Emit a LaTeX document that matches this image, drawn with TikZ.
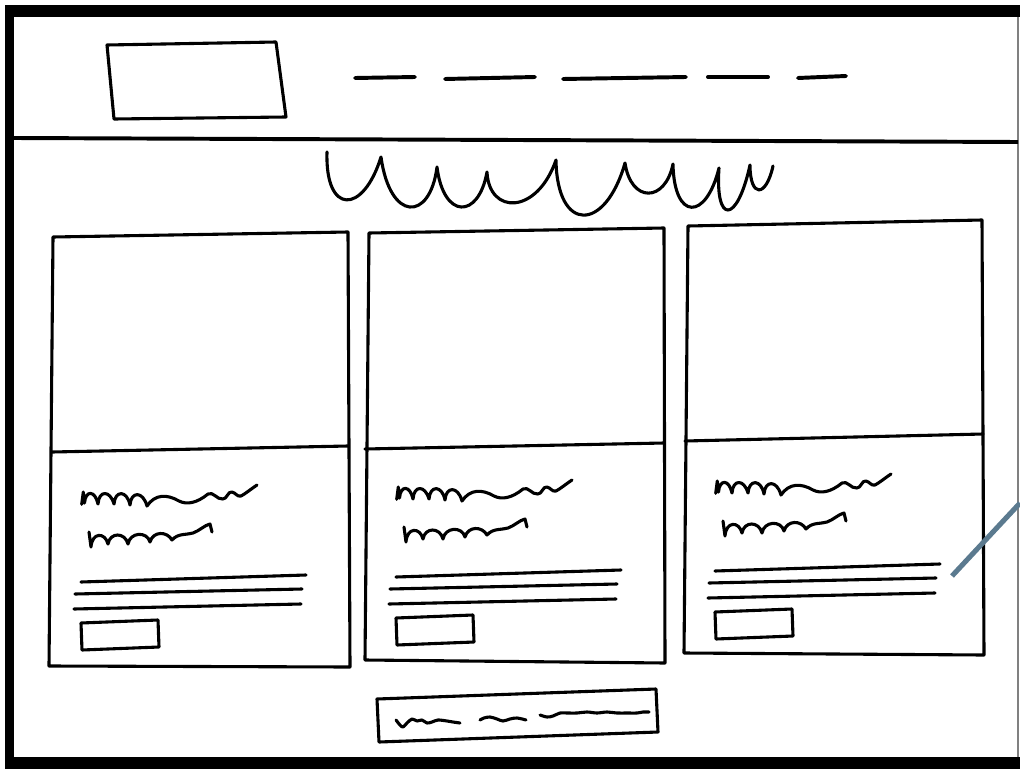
\documentclass[tikz,border=0pt]{standalone}
\usepackage{tikz}
\usetikzlibrary{positioning}
\definecolor{pen}{HTML}{5B7A8F}

\tikzset{
    cardtext/.pic={
        % two heading scribbles
        \draw[sketch] (6.7,29.3) -- (8.3,17) -- (9.5,28)
            .. controls (10.5,15) and (20,15) .. (23,29)
            .. controls (24,15) and (35,15) .. (39,29)
            .. controls (40,15) and (52,15) .. (55,30)
            .. controls (56,16) and (68,16) .. (72,31)
            .. controls (80,19) and (92,19) .. (104,26)
            .. controls (112,30) and (122,28) .. (133,19)
            .. controls (138,16) and (142,25) .. (148,24)
            .. controls (152,24) and (153,16) .. (157,17)
            .. controls (161,18) and (162,22) .. (166,21)
            .. controls (170,19) and (176,14) .. (182,10);
        \draw[sketch] (14,57) -- (16,72)
            .. controls (17,57) and (30,57) .. (33,69)
            .. controls (35,57) and (50,57) .. (53,69)
            .. controls (55,57) and (72,56) .. (75,67)
            .. controls (78,56) and (92,56) .. (97,65)
            .. controls (103,58) and (112,60) .. (118,58)
            .. controls (124,56) and (130,50) .. (135,49) -- (137,57);
        % text lines
        \draw[sketch] (6,107) -- (231,100);
        \draw[sketch] (0,119) -- (227,114);
        \draw[sketch] (-1,134) -- (226,129);
        % button
        \draw[sketch] (6,148) -- (83,145) -- (84,172) -- (7,175) -- cycle;
    }
}

\begin{document}
\begin{tikzpicture}[
        x=0.025cm, y=-0.025cm,
        sketch/.style={draw=black, line width=2.2pt, line cap=round, line join=round},
        scribble/.style={sketch, smooth, tension=0.55},
        bold/.style={draw=black, line width=2.8pt, line cap=round}
    ]
    \useasboundingbox (0,0) rectangle (1020,769);
    % screen frame
    \fill[black] (5,5) rectangle (1020,17);
    \fill[black] (5,5) rectangle (14,769);
    \fill[black] (5,757) rectangle (1020,769);
    \draw[gray, line width=1.2pt] (1018,17) -- (1018,757);

    % header: logo, menu, rule
    \draw[sketch] (107,45) -- (276,42) -- (286,117) -- (114,119) -- cycle;
    \draw[bold] (355,78) -- (415,77);
    \draw[bold] (445,79) -- (535,77);
    \draw[bold] (563,79) -- (686,77);
    \draw[bold] (708,77) -- (768,77);
    \draw[bold] (798,78) -- (846,76);
    \draw[bold, line cap=butt] (14,138) -- (1018,142);

    % page title
    \draw[sketch] (327,152) .. controls (325,215) and (363,215) .. (381,157)
        .. controls (390,222) and (430,222) .. (437,167)
        .. controls (443.5,219.5) and (478.5,219.5) .. (487,172)
        .. controls (489,215) and (537,215) .. (556,160)
        .. controls (557,233) and (605,233) .. (625,163)
        .. controls (631,203) and (665,203) .. (673,164)
        .. controls (674,221) and (706,221) .. (719,168)
        .. controls (715,224.5) and (737,224.5) .. (750,165)
        .. controls (750,198) and (766,198) .. (773,166);

    % cards
    \draw[sketch] (53,237) -- (348,232) -- (350,667) -- (49,666) -- cycle;
    \draw[sketch] (52,452) -- (348,446);
    \draw[sketch] (369,233) -- (664,228) -- (665,663) -- (365,660) -- cycle;
    \draw[sketch] (365,449) -- (664,443);
    \draw[sketch] (688,226) -- (982,220) -- (984,655) -- (684,653) -- cycle;
    \draw[sketch] (685,441) -- (983,434);

    \coordinate (card1) at (75,475);
    \coordinate (card2) at (390,470);
    \coordinate (card3) at (709,464);
    \pic at (card1) {cardtext};
    \pic at (card2) {cardtext};
    \pic at (card3) {cardtext};

    % annotation stroke
    \draw[pen, line width=3.6pt] (952,576) -- (1020,503);

    % footer
    \draw[sketch] (377,699) -- (656,689) -- (658,732) -- (379,742) -- cycle;
    \draw[scribble] plot coordinates {(396,720) (400,725) (403,727) (407,723) (412,719) (417,721) (422,720) (427,723) (432,722) (438,720) (447,721) (453,722) (460,723)};
    \draw[scribble] plot coordinates {(480,720) (484,718) (490,717) (497,719) (503,721) (510,719) (517,718) (526,720)};
    \draw[scribble] plot coordinates {(540,715) (547,717) (553,716) (560,713) (567,713) (577,713) (587,712) (597,713) (607,712) (617,713) (627,713) (637,713) (643,712) (649,712)};
\end{tikzpicture}
\end{document}
